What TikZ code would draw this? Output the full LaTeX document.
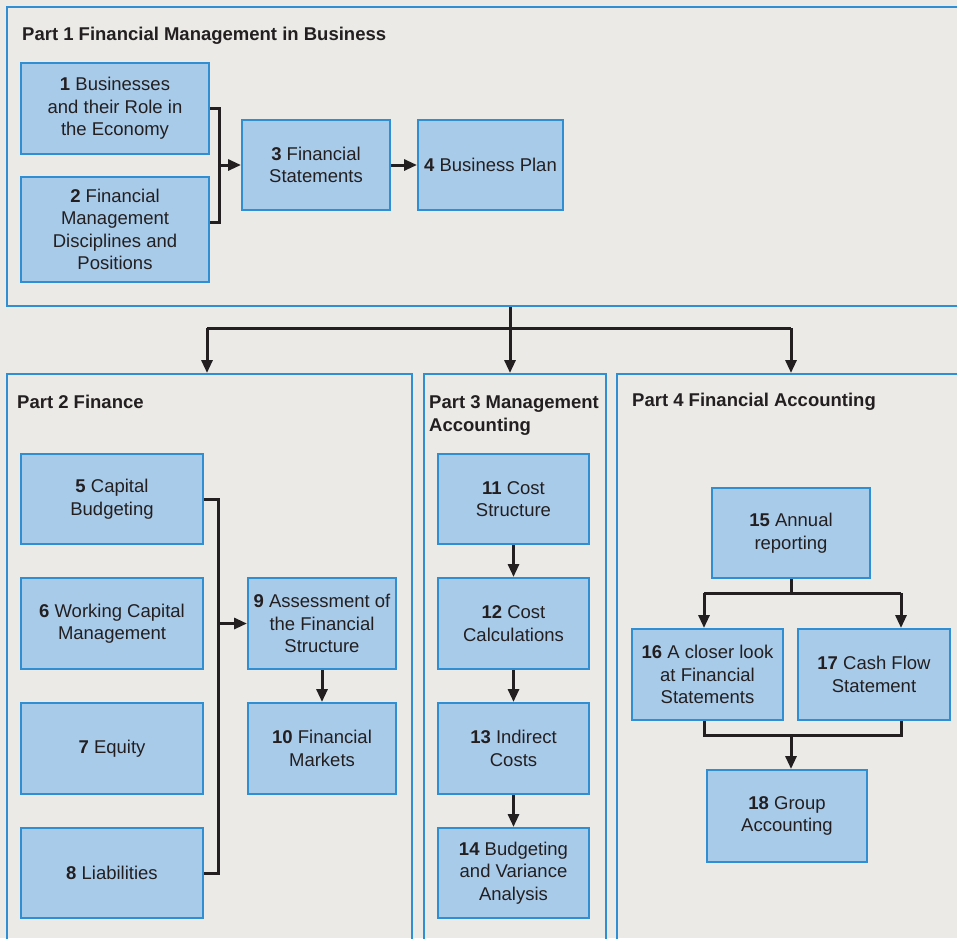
\documentclass[tikz,border=0pt]{standalone}
\usepackage{fontspec}
\setmainfont{Liberation Sans}
\usetikzlibrary{arrows.meta,calc}
\definecolor{bg}{HTML}{EBEAE6}
\definecolor{boxfill}{HTML}{A9CBEA}
\definecolor{boxline}{HTML}{2F8FD2}
\definecolor{txt}{HTML}{231F20}
\tikzset{
  box/.style={draw=boxline, line width=2pt, fill=boxfill, align=center, inner sep=0pt,
    text=txt, font=\fontsize{18.5}{22.5}\selectfont},
  panel/.style={draw=boxline, line width=2pt, inner sep=0pt, anchor=north west},
  ptitle/.style={text=txt, font=\fontsize{18.5}{23}\selectfont\bfseries, inner sep=0pt, align=left},
  conn/.style={draw=txt, line width=3pt},
  arr/.style={conn, -{Triangle[length=13pt,width=11pt]}}
}
\begin{document}
\begin{tikzpicture}[x=1pt,y=-1pt]
\fill[bg] (0,0) rectangle (957,938);
\useasboundingbox (0,0) rectangle (957,938);
\clip (0,0) rectangle (957,938);
% panels
\node[panel, minimum width=1000pt, minimum height=299pt] (P1) at (6,6) {};
\node[panel, minimum width=405pt, minimum height=600pt] (P2) at (6,373) {};
\node[panel, minimum width=182pt, minimum height=600pt] (P3) at (422.5,373) {};
\node[panel, minimum width=400pt, minimum height=600pt] (P4) at (616,373) {};
% titles
\node[ptitle, anchor=west] (T1) at (22,36) {Part 1 Financial Management in Business};
\node[ptitle, anchor=west] (T2) at (17,402) {Part 2 Finance};
\node[ptitle, anchor=north west] (T3) at (429,395) {Part 3 Management\\Accounting};
\node[ptitle, anchor=west] (T4) at (632,402) {Part 4 Financial Accounting};
% part 1 boxes
\node[box, minimum width=188pt, minimum height=91pt] (b1) at (115,108.5) {\textbf{1} Businesses\\and their Role in\\the Economy};
\node[box, minimum width=188pt, minimum height=105pt] (b2) at (115,229.5) {\textbf{2} Financial\\Management\\Disciplines and\\Positions};
\node[box, minimum width=148pt, minimum height=90pt] (b3) at (316,165) {\textbf{3} Financial\\Statements};
\node[box, minimum width=145pt, minimum height=90pt] (b4) at (490.5,165) {\textbf{4} Business Plan};
% part 2 boxes
\node[box, minimum width=182pt, minimum height=90pt] (b5) at (112,499) {\textbf{5} Capital\\Budgeting};
\node[box, minimum width=182pt, minimum height=91pt] (b6) at (112,623.5) {\textbf{6} Working Capital\\Management};
\node[box, minimum width=182pt, minimum height=91pt] (b7) at (112,748.5) {\textbf{7} Equity};
\node[box, minimum width=182pt, minimum height=90pt] (b8) at (112,873) {\textbf{8} Liabilities};
\node[box, minimum width=148pt, minimum height=91pt] (b9) at (322,623.5) {\textbf{9} Assessment of\\the Financial\\Structure};
\node[box, minimum width=148pt, minimum height=91pt] (b10) at (322,748.5) {\textbf{10} Financial\\Markets};
% part 3 boxes
\node[box, minimum width=151pt, minimum height=90pt] (b11) at (513.5,499) {\textbf{11} Cost\\Structure};
\node[box, minimum width=151pt, minimum height=91pt] (b12) at (513.5,623.5) {\textbf{12} Cost\\Calculations};
\node[box, minimum width=151pt, minimum height=91pt] (b13) at (513.5,748.5) {\textbf{13} Indirect\\Costs};
\node[box, minimum width=151pt, minimum height=90pt] (b14) at (513.5,873) {\textbf{14} Budgeting\\and Variance\\Analysis};
% part 4 boxes
\node[box, minimum width=158pt, minimum height=90pt] (b15) at (791,533) {\textbf{15} Annual\\reporting};
\node[box, minimum width=151pt, minimum height=91pt] (b16) at (707.5,674.5) {\textbf{16} A closer look\\at Financial\\Statements};
\node[box, minimum width=152pt, minimum height=91pt] (b17) at (874,674.5) {\textbf{17} Cash Flow\\Statement};
\node[box, minimum width=160pt, minimum height=92pt] (b18) at (787,816) {\textbf{18} Group\\Accounting};
% part 1 connectors
\coordinate (j1) at (219,0);
\draw[conn] (b1.east) -| ($(j1 |- b2.east)+(0,-7.5)$) -- ($(b2.east)+(0,-7.5)$);
\draw[arr] (j1 |- b3.west) -- (b3.west);
\draw[arr] (b3.east) -- (b4.west);
% part 1 to parts
\coordinate (s1) at (510,0);
\coordinate (h1) at (0,328);
\coordinate (a2) at (207,0);
\coordinate (a4) at (791,0);
\draw[conn] (s1 |- P1.south) -- (s1 |- h1);
\draw[conn] (a2 |- h1) -- (a4 |- h1);
\draw[arr] (a2 |- h1) -- (a2 |- P2.north);
\draw[arr] (s1 |- h1) -- (s1 |- P3.north);
\draw[arr] (a4 |- h1) -- (a4 |- P4.north);
% part 2 connectors
\coordinate (j2) at (218,0);
\draw[conn] (b5.east) -| (j2 |- b8.east) -- (b8.east);
\draw[arr] (j2 |- b9.west) -- (b9.west);
\draw[arr] (b9.south) -- (b10.north);
% part 3 connectors
\draw[arr] (b11.south) -- (b12.north);
\draw[arr] (b12.south) -- (b13.north);
\draw[arr] (b13.south) -- (b14.north);
% part 4 connectors
\coordinate (x16) at (704,0);
\coordinate (x17) at (901,0);
\coordinate (h15) at (0,593);
\coordinate (h16) at (0,735);
\draw[conn] (b15.south) -- (b15.south |- h15);
\draw[conn] (x16 |- h15) -- (x17 |- h15);
\draw[arr] (x16 |- h15) -- (x16 |- b16.north);
\draw[arr] (x17 |- h15) -- (x17 |- b17.north);
\draw[conn] (x16 |- b16.south) -- (x16 |- h16) -- (x17 |- h16) -- (x17 |- b17.south);
\draw[arr] (b15.south |- h16) -- (b15.south |- b18.north);
\end{tikzpicture}
\end{document}
